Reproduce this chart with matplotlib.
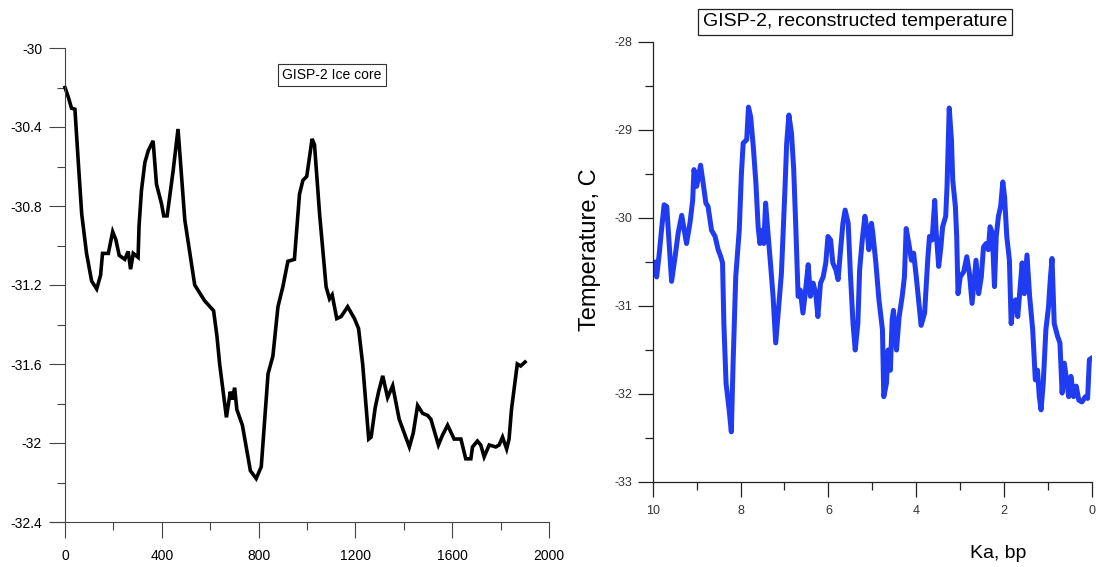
import matplotlib
matplotlib.use("Agg")
import matplotlib.pyplot as plt
from matplotlib.ticker import MultipleLocator

plt.rcParams['font.family'] = ['Liberation Sans', 'DejaVu Sans']

# ---- Left panel: GISP-2 ice core (years) ----
left_years = [0, 14, 27, 41, 55, 69, 89, 110, 131, 147, 155, 179, 197, 210, 224, 247,
              261, 271, 282, 302, 306, 316, 330, 344, 364, 378, 399, 408, 422, 447,
              467, 495, 536, 577, 614, 628, 639, 667, 683, 691, 701, 710, 733, 766,
              790, 811, 839, 859, 880, 900, 921, 948, 969, 983, 999, 1021, 1031,
              1052, 1079, 1093, 1104, 1123, 1141, 1168, 1196, 1213, 1230, 1255,
              1265, 1282, 1296, 1313, 1333, 1354, 1381, 1423, 1439, 1457, 1478,
              1498, 1512, 1543, 1560, 1581, 1608, 1636, 1656, 1677, 1684, 1704,
              1718, 1732, 1753, 1780, 1794, 1808, 1825, 1835, 1845, 1869, 1883, 1901]
left_temp = [-30.20, -30.25, -30.305, -30.31, -30.58, -30.84, -31.04, -31.18, -31.22,
             -31.15, -31.04, -31.04, -30.93, -30.97, -31.05, -31.07, -31.03, -31.12,
             -31.04, -31.06, -30.90, -30.72, -30.58, -30.52, -30.47, -30.69, -30.79,
             -30.85, -30.85, -30.62, -30.41, -30.87, -31.20, -31.28, -31.33, -31.46,
             -31.60, -31.87, -31.74, -31.78, -31.72, -31.83, -31.91, -32.14, -32.18,
             -32.12, -31.65, -31.56, -31.31, -31.21, -31.08, -31.07, -30.74, -30.67,
             -30.65, -30.46, -30.49, -30.84, -31.21, -31.27, -31.25, -31.37, -31.36,
             -31.31, -31.37, -31.42, -31.60, -31.98, -31.97, -31.82, -31.74, -31.66,
             -31.77, -31.71, -31.88, -32.02, -31.95, -31.81, -31.85, -31.86, -31.88,
             -32.01, -31.96, -31.91, -31.98, -31.98, -32.08, -32.08, -32.02, -31.99,
             -32.01, -32.07, -32.01, -32.02, -32.01, -31.97, -32.03, -31.98, -31.83,
             -31.60, -31.61, -31.59]
left_xticks = [0, 400, 800, 1200, 1600, 2000]
left_yticks = [-32.4, -32.0, -31.6, -31.2, -30.8, -30.4, -30.0]
left_ylabels = ['-32.4', '-32', '-31.6', '-31.2', '-30.8', '-30.4', '-30']

# ---- Right panel: reconstructed temperature (ka BP) ----
right_ka = [10.02, 9.95, 9.91, 9.85, 9.80, 9.74, 9.68, 9.62, 9.57, 9.49, 9.42, 9.34,
            9.27, 9.23, 9.15, 9.09, 9.06, 9.00, 8.91, 8.85, 8.79, 8.74, 8.66, 8.58,
            8.51, 8.45, 8.41, 8.38, 8.33, 8.26, 8.21, 8.17, 8.11, 8.03, 7.98, 7.94,
            7.86, 7.82, 7.77, 7.71, 7.65, 7.60, 7.56, 7.50, 7.47, 7.43, 7.37, 7.32,
            7.26, 7.20, 7.15, 7.07, 6.99, 6.95, 6.90, 6.84, 6.79, 6.74, 6.69, 6.64,
            6.58, 6.52, 6.46, 6.41, 6.35, 6.29, 6.24, 6.18, 6.12, 6.06, 6.01, 5.95,
            5.90, 5.83, 5.78, 5.73, 5.67, 5.62, 5.55, 5.50, 5.44, 5.39, 5.33, 5.29,
            5.23, 5.17, 5.12, 5.08, 5.02, 4.99, 4.92, 4.85, 4.77, 4.74, 4.68, 4.64,
            4.59, 4.55, 4.52, 4.45, 4.39, 4.32, 4.27, 4.23, 4.17, 4.11, 4.06, 4.00,
            3.94, 3.89, 3.81, 3.74, 3.70, 3.64, 3.58, 3.55, 3.49, 3.44, 3.40, 3.33,
            3.30, 3.27, 3.25, 3.20, 3.17, 3.11, 3.08, 3.05, 3.00, 2.92, 2.85, 2.79,
            2.73, 2.68, 2.64, 2.58, 2.52, 2.47, 2.41, 2.36, 2.32, 2.27, 2.22, 2.18,
            2.13, 2.08, 2.03, 1.99, 1.94, 1.88, 1.84, 1.79, 1.74, 1.69, 1.64, 1.59,
            1.54, 1.48, 1.42, 1.35, 1.29, 1.24, 1.20, 1.16, 1.11, 1.05, 0.99, 0.95,
            0.91, 0.86, 0.78, 0.73, 0.68, 0.63, 0.58, 0.53, 0.48, 0.42, 0.36, 0.30,
            0.23, 0.15, 0.10, 0.06, 0.00]
right_temp = [-30.55, -30.50, -30.67, -30.40, -30.14, -29.85, -29.87, -30.33, -30.72,
              -30.44, -30.17, -29.97, -30.17, -30.29, -30.05, -29.80, -29.45, -29.64,
              -29.40, -29.61, -29.83, -29.87, -30.14, -30.21, -30.36, -30.44, -30.51,
              -31.20, -31.88, -32.18, -32.43, -31.65, -30.67, -30.14, -29.49, -29.15,
              -29.11, -28.74, -28.85, -29.19, -29.61, -30.10, -30.29, -30.14, -30.29,
              -29.83, -30.21, -30.51, -30.89, -31.42, -31.12, -30.63, -29.68, -29.15,
              -28.83, -29.04, -29.45, -30.14, -30.89, -30.82, -31.08, -30.82, -30.53,
              -30.89, -30.74, -30.85, -31.12, -30.74, -30.67, -30.51, -30.21, -30.25,
              -30.51, -30.59, -30.70, -30.40, -30.06, -29.91, -30.06, -30.63, -31.20,
              -31.50, -31.20, -30.59, -30.25, -29.98, -30.14, -30.36, -30.06, -30.17,
              -30.51, -30.93, -31.27, -32.03, -31.88, -31.50, -31.73, -31.16, -31.05,
              -31.50, -31.12, -30.89, -30.67, -30.12, -30.29, -30.48, -30.40, -30.67,
              -30.97, -31.22, -31.08, -30.48, -30.21, -30.25, -29.80, -30.14, -30.55,
              -30.33, -30.10, -29.98, -29.64, -29.08, -28.75, -29.11, -29.57, -29.87,
              -30.21, -30.86, -30.67, -30.61, -30.44, -30.63, -30.97, -30.70, -30.48,
              -30.86, -30.67, -30.33, -30.29, -30.36, -30.10, -30.17, -30.78, -30.21,
              -29.98, -29.87, -29.59, -29.76, -30.21, -30.48, -31.20, -30.97, -30.93,
              -31.12, -30.82, -30.51, -30.86, -30.42, -30.89, -31.27, -31.84, -31.73,
              -32.03, -32.18, -31.88, -31.27, -31.01, -30.70, -30.46, -31.20, -31.35,
              -31.42, -31.99, -31.65, -31.84, -32.03, -31.80, -32.03, -31.91, -32.07,
              -32.09, -32.03, -32.05, -31.61, -31.59]
right_xticks = [10, 8, 6, 4, 2, 0]
right_yticks = [-33, -32, -31, -30, -29, -28]

W, H = 1096, 567
fig = plt.figure(figsize=(W / 100, H / 100), dpi=100)

def fx(px):
    return px / W

def fy(py):
    return 1 - py / H

# Left axes: x-axis line from px 50 to 549, y from 48 to 522
axL = fig.add_axes([fx(50), fy(522), fx(549) - fx(50), fy(48) - fy(522)])
axL.plot(left_years, left_temp, color='black', lw=2.6, solid_joinstyle='miter')
axL.set_xlim(-62, 2000)
axL.set_ylim(-32.4, -30.0)
axL.spines['left'].set_position(('data', 0))
axL.spines['top'].set_visible(False)
axL.spines['right'].set_visible(False)
for s in ('left', 'bottom'):
    axL.spines[s].set_linewidth(0.8)
    axL.spines[s].set_color('#444444')
axL.set_xticks(left_xticks)
axL.set_xticklabels([str(v) for v in left_xticks])
axL.set_yticks(left_yticks)
axL.set_yticklabels(left_ylabels)
axL.xaxis.set_minor_locator(MultipleLocator(200))
axL.yaxis.set_minor_locator(MultipleLocator(0.2))
axL.tick_params(which='major', length=11.5, width=0.8, color='#444444',
                labelsize=10, direction='out')
axL.tick_params(axis='y', which='major', pad=5)
axL.tick_params(axis='x', which='major', pad=8)
axL.tick_params(which='minor', length=5.8, width=0.8, color='#444444', direction='out')
axL.patch.set_visible(False)

fig.text(fx(332), fy(75), 'GISP-2 Ice core', fontsize=10, ha='center', va='center',
         bbox=dict(boxstyle='square,pad=0.3', fc='white', ec='#333333', lw=0.8))

# Right axes: x from px 652.7 to 1092, y from 42 to 482
axR = fig.add_axes([fx(652.7), fy(482), fx(1092) - fx(652.7), fy(42) - fy(482)])
axR.plot(right_ka, right_temp, color='#1f3cf2', lw=3.6)
axR.set_xlim(10, 0)
axR.set_ylim(-33, -28)
axR.spines['top'].set_visible(False)
axR.spines['right'].set_visible(False)
for s in ('left', 'bottom'):
    axR.spines[s].set_linewidth(0.9)
    axR.spines[s].set_color('#222222')
axR.set_xticks(right_xticks)
axR.set_xticklabels([str(v) for v in right_xticks])
axR.set_yticks(right_yticks)
axR.set_yticklabels([str(v) for v in right_yticks])
axR.xaxis.set_minor_locator(MultipleLocator(1))
axR.yaxis.set_minor_locator(MultipleLocator(0.5))
axR.tick_params(which='major', length=10.5, width=0.9, color='#222222',
                labelsize=9, labelcolor='#333333', direction='out')
axR.tick_params(axis='y', which='major', pad=4)
axR.tick_params(axis='x', which='major', pad=6)
axR.tick_params(which='minor', length=5.8, width=0.9, color='#222222', direction='out')
axR.patch.set_visible(False)

fig.text(fx(855), fy(22), 'GISP-2, reconstructed temperature', fontsize=14,
         ha='center', va='center',
         bbox=dict(boxstyle='square,pad=0.25', fc='white', ec='#222222', lw=0.9))
fig.text(fx(590), fy(250), 'Temperature, C', fontsize=17, rotation=90,
         ha='center', va='center')
fig.text(fx(998), fy(553), 'Ka, bp', fontsize=14, ha='center', va='center')

fig.savefig('out.png', dpi=100)
